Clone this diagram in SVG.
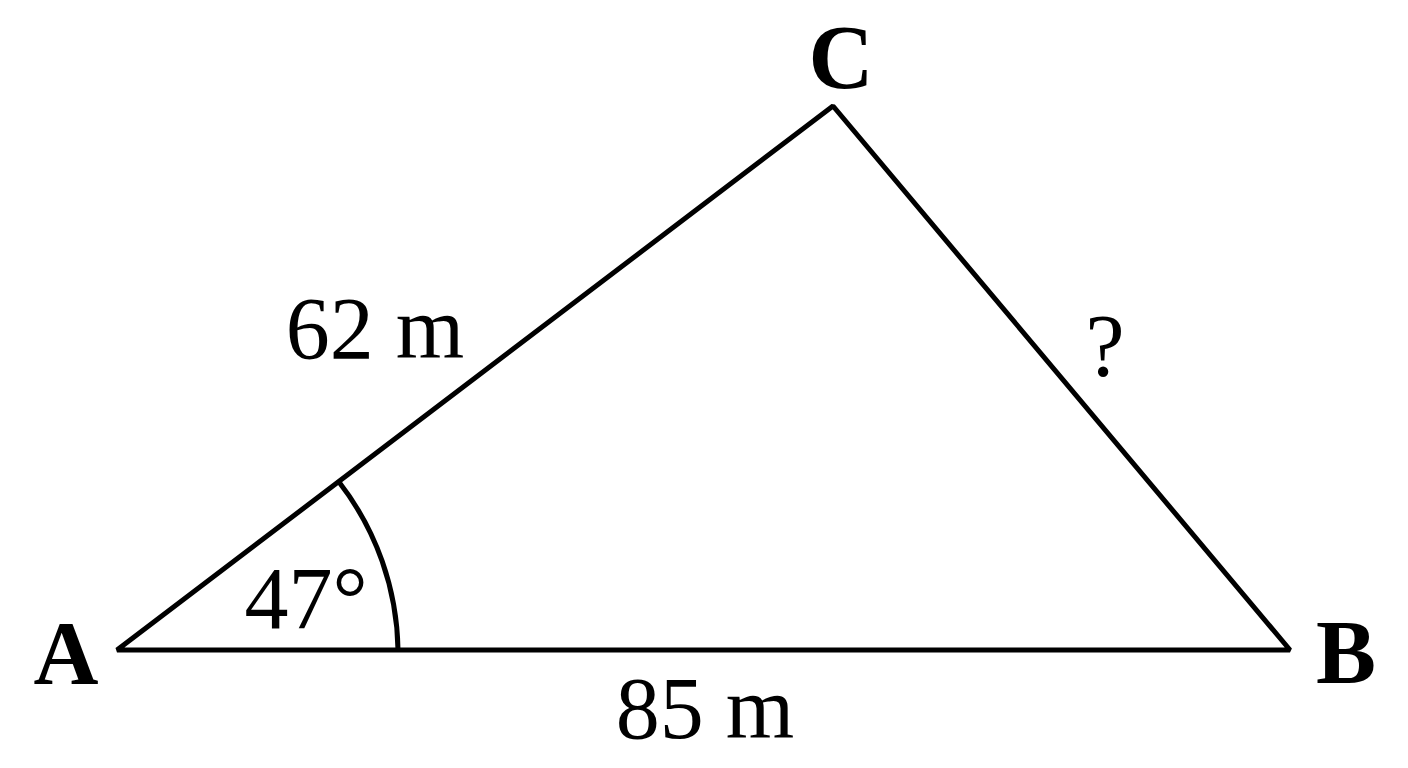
<svg xmlns="http://www.w3.org/2000/svg" width="1408" height="768" viewBox="0 0 1408 768">
<style>
.ln{fill:none;stroke:#000;stroke-width:5;stroke-linejoin:bevel}
.lbl{font-family:"Liberation Serif","Times New Roman",serif;font-size:90px;font-weight:bold;fill:#000}
.t{font-family:"Liberation Serif","Times New Roman",serif;font-size:88px;fill:#000}
</style>
<rect width="1408" height="768" fill="#fff"/>
<g id="edges">
<polygon class="ln" points="117,650 1290,650 833,106"/>
<path id="angle-arc" class="ln" d="M398,650 A281,281 0 0 0 339,482"/>
</g>
<g id="node-A"><text class="lbl" x="66" y="684" text-anchor="middle">A</text></g>
<g id="node-B"><text class="lbl" x="1346" y="683" text-anchor="middle">B</text></g>
<g id="node-C"><text class="lbl" x="841" y="88" text-anchor="middle">C</text></g>
<g id="labels">
<text class="t" x="375" y="358" text-anchor="middle">62 m</text>
<text class="t" x="705" y="738" text-anchor="middle">85 m</text>
<text class="t" x="306" y="628" text-anchor="middle">47°</text>
<text class="t" x="1105" y="375" text-anchor="middle">?</text>
</g>
</svg>
